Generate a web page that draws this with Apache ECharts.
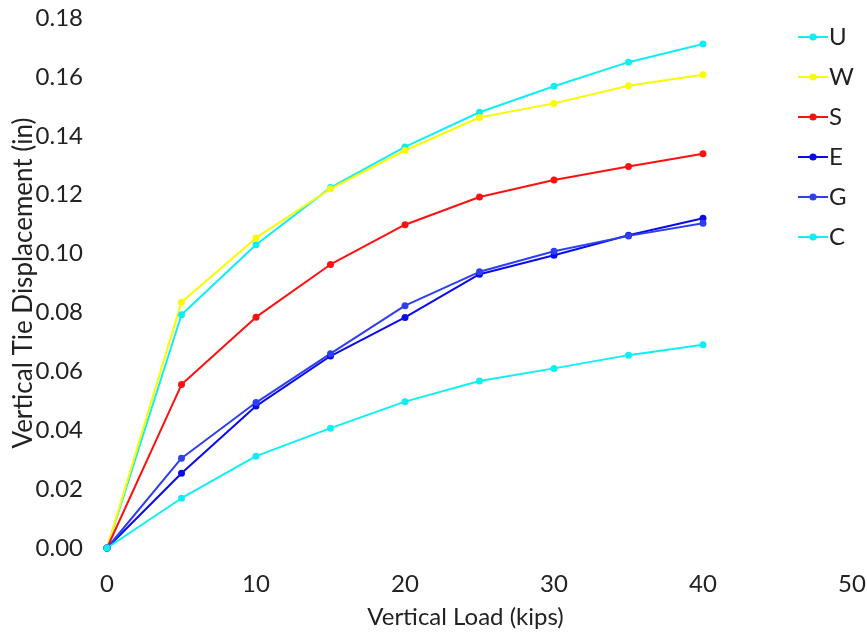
<!DOCTYPE html>
<html>
<head>
<meta charset="utf-8">
<script src="https://cdn.jsdelivr.net/npm/echarts@6/dist/echarts.min.js"></script>
<style>html,body{margin:0;padding:0;background:#fff}#c{width:867px;height:633px}</style>
</head>
<body>
<div id="c"></div>
<script>
const loads = [0, 5, 10, 15, 20, 25, 30, 35, 40];
const U = [0, 0.0792, 0.1030, 0.1224, 0.1362, 0.1480, 0.1568, 0.1650, 0.1712];
const W = [0, 0.0835, 0.1053, 0.1220, 0.1350, 0.1462, 0.1510, 0.1570, 0.1607];
const S = [0, 0.0555, 0.0784, 0.0963, 0.1098, 0.1192, 0.1250, 0.1296, 0.1339];
const E = [0, 0.0254, 0.0482, 0.0652, 0.0783, 0.0930, 0.0994, 0.1062, 0.1120];
const G = [0, 0.0305, 0.0494, 0.0660, 0.0823, 0.0938, 0.1008, 0.1060, 0.1103];
const C = [0, 0.0169, 0.0312, 0.0407, 0.0497, 0.0567, 0.0610, 0.0655, 0.0690];
const xTicks = [0, 10, 20, 30, 40, 50];

const names = ['U', 'W', 'S', 'E', 'G', 'C'];
const datas = [U, W, S, E, G, C];
const colors = ['#10eef5', '#fafa00', '#ff1010', '#0a0aee', '#2f3ff0', '#10eef5'];

const font = 'Lato, "Open Sans", sans-serif';
const chart = echarts.init(document.getElementById('c'));
chart.setOption({
  animation: false,
  backgroundColor: '#fff',
  grid: { left: 107, right: 15, top: 18, bottom: 85, containLabel: false, outerBoundsMode: 'none' },
  legend: {
    orient: 'vertical', left: 792, top: 20,
    itemWidth: 30, itemHeight: 9, itemGap: 16,
    textStyle: { fontFamily: font, fontSize: 24, color: '#222', padding: [0, 0, 0, -4] },
    data: names
  },
  xAxis: {
    type: 'value', min: 0, max: 50, interval: 10,
    name: 'Vertical Load (kips)', nameLocation: 'middle', nameGap: 57, nameMoveOverlap: false,
    nameTextStyle: { fontFamily: font, fontSize: 24, color: '#222', padding: [0, 28, 0, 0] },
    axisLine: { show: false }, axisTick: { show: false }, splitLine: { show: false },
    axisLabel: { fontFamily: font, fontSize: 24, color: '#222', margin: 24,
      formatter: v => xTicks.includes(v) ? String(v) : '' }
  },
  yAxis: {
    type: 'value', min: 0, max: 0.18, interval: 0.02,
    name: 'Vertical Tie Displacement (in)', nameLocation: 'middle', nameGap: 70, nameMoveOverlap: false,
    nameTextStyle: { fontFamily: font, fontSize: 26, color: '#222' },
    axisLine: { show: false }, axisTick: { show: false }, splitLine: { show: false },
    axisLabel: { fontFamily: font, fontSize: 24, color: '#222', margin: 24,
      formatter: v => v.toFixed(2) }
  },
  series: names.map((n, i) => ({
    name: n, type: 'line',
    data: loads.map((x, j) => [x, datas[i][j]]),
    symbol: 'circle', symbolSize: 7,
    lineStyle: { width: 2, color: colors[i] },
    itemStyle: { color: colors[i] }
  }))
});
</script>
</body>
</html>
